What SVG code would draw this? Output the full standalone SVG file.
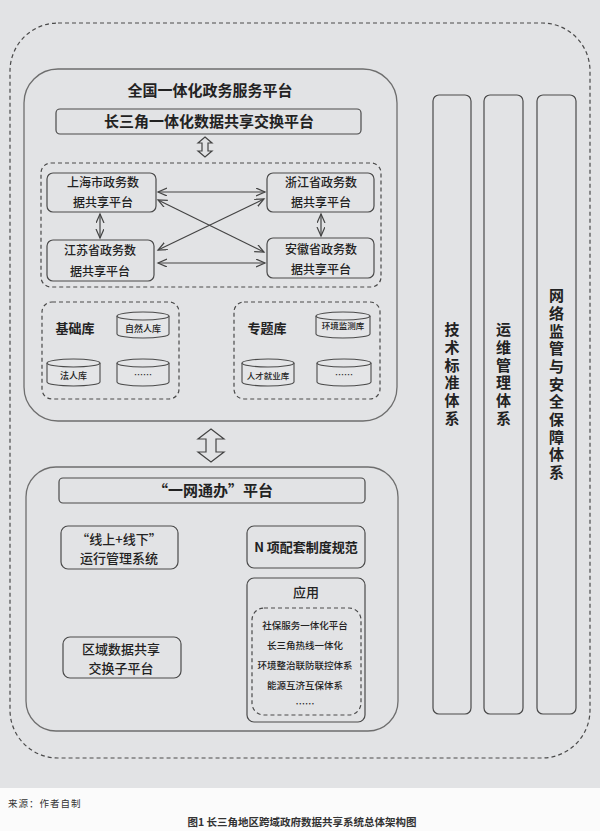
<svg xmlns="http://www.w3.org/2000/svg" width="600" height="831" viewBox="0 0 600 831">
<style>
text{font-family:"Noto Sans CJK SC","Noto Sans",sans-serif;fill:#222;text-anchor:middle}
.b{font-weight:bold}
.m{font-weight:500}
.v{writing-mode:vertical-rl;text-orientation:upright;letter-spacing:2.7px;text-anchor:start}
.panel{fill:none;stroke:#6e6e6e;stroke-width:1.3}
.box{fill:none;stroke:#4a4a4a;stroke-width:1.2}
.dash{fill:none;stroke:#4a4a4a;stroke-width:1.2;stroke-dasharray:4 3}
.cyl{fill:#e4e5e7;stroke:#4a4a4a;stroke-width:1.1}
.conn{fill:none;stroke:#444;stroke-width:1.2;marker-start:url(#ah);marker-end:url(#ah)}
.hollow{fill:#e2e3e5;stroke:#444;stroke-width:1.2;stroke-linejoin:miter}
</style>
<defs>
<marker id="ah" markerUnits="userSpaceOnUse" markerWidth="12" markerHeight="10" refX="9" refY="4" orient="auto-start-reverse">
<path d="M0,0 L9,4 L0,8" fill="none" stroke="#444" stroke-width="1.2"/>
</marker>
</defs>
<rect x="0" y="0" width="600" height="788" fill="#e2e3e5"/>
<rect x="0" y="788" width="600" height="43" fill="#fbfbfb"/>

<g id="outer"><rect x="10" y="23" width="580" height="735" rx="48" class="dash" stroke="#555"/></g>

<g id="upper-panel">
<rect x="24" y="69" width="373" height="352" rx="34" class="panel"/>
<text x="210" y="96" font-size="15" class="b">全国一体化政务服务平台</text>
</g>
<g id="yrd-exchange">
<rect x="56" y="109" width="305" height="25" rx="4" class="box"/>
<text x="209" y="127" font-size="15" class="b">长三角一体化数据共享交换平台</text>
</g>
<g id="province-group"><rect x="41" y="163" width="340" height="124" rx="10" class="dash"/></g>
<g id="shanghai">
<rect x="47" y="173" width="109" height="39" rx="6" class="box"/>
<text x="103" y="187" font-size="12" class="m">上海市政务数</text>
<text x="103" y="207" font-size="12" class="m">据共享平台</text>
</g>
<g id="zhejiang">
<rect x="267" y="173" width="107" height="39" rx="6" class="box"/>
<text x="321" y="187" font-size="12" class="m">浙江省政务数</text>
<text x="321" y="207" font-size="12" class="m">据共享平台</text>
</g>
<g id="jiangsu">
<rect x="47" y="240" width="107" height="41" rx="6" class="box"/>
<text x="100" y="255" font-size="12" class="m">江苏省政务数</text>
<text x="100" y="276" font-size="12" class="m">据共享平台</text>
</g>
<g id="anhui">
<rect x="267" y="238" width="107" height="40" rx="6" class="box"/>
<text x="321" y="254" font-size="12" class="m">安徽省政务数</text>
<text x="321" y="274" font-size="12" class="m">据共享平台</text>
</g>

<g id="base-lib">
<rect x="42" y="302" width="137" height="97" rx="10" class="dash"/>
<text x="75" y="333" font-size="13" class="b">基础库</text>
<path d="M117,316 A26,4 0 0 1 169,316 L169,334 A26,4 0 0 1 117,334 Z" class="cyl"/>
<path d="M117,316 A26,4 0 0 0 169,316" class="cyl" fill="none"/>
<text x="143" y="332" font-size="9" class="m">自然人库</text>
<path d="M47,363 A26.5,4 0 0 1 100,363 L100,382 A26.5,4 0 0 1 47,382 Z" class="cyl"/>
<path d="M47,363 A26.5,4 0 0 0 100,363" class="cyl" fill="none"/>
<text x="73.5" y="379" font-size="9" class="m">法人库</text>
<path d="M117,363 A26,4 0 0 1 169,363 L169,382 A26,4 0 0 1 117,382 Z" class="cyl"/>
<path d="M117,363 A26,4 0 0 0 169,363" class="cyl" fill="none"/>
<text x="143" y="378" font-size="9" class="m">……</text>
</g>
<g id="topic-lib">
<rect x="234" y="302" width="146" height="97" rx="10" class="dash"/>
<text x="267" y="333" font-size="13" class="b">专题库</text>
<path d="M316,316 A27,4 0 0 1 370,316 L370,334 A27,4 0 0 1 316,334 Z" class="cyl"/>
<path d="M316,316 A27,4 0 0 0 370,316" class="cyl" fill="none"/>
<text x="343" y="329" font-size="8.5" class="m">环境监测库</text>
<path d="M242,363 A26,4 0 0 1 294,363 L294,382 A26,4 0 0 1 242,382 Z" class="cyl"/>
<path d="M242,363 A26,4 0 0 0 294,363" class="cyl" fill="none"/>
<text x="268" y="379" font-size="8.5" class="m">人才就业库</text>
<path d="M317,363 A27,4 0 0 1 371,363 L371,382 A27,4 0 0 1 317,382 Z" class="cyl"/>
<path d="M317,363 A27,4 0 0 0 371,363" class="cyl" fill="none"/>
<text x="344" y="378" font-size="9" class="m">……</text>
</g>

<g id="lower-panel">
<rect x="26" y="467" width="372" height="264" rx="30" class="panel"/>
</g>
<g id="ywtb">
<rect x="59" y="478" width="306" height="25" rx="4" class="box"/>
<text x="213" y="496" font-size="15" class="b">“一网通办”平台</text>
</g>
<g id="online-offline">
<rect x="61" y="526" width="117" height="43" rx="7" class="box"/>
<text x="119" y="544" font-size="13" class="m">“线上+线下”</text>
<text x="119" y="563" font-size="13" class="m">运行管理系统</text>
</g>
<g id="n-rules">
<rect x="247" y="526" width="118" height="42" rx="7" class="box"/>
<text x="306" y="552" font-size="13" class="b">N 项配套制度规范</text>
</g>
<g id="apps">
<rect x="247" y="578" width="118" height="144" rx="7" class="box"/>
<text x="306" y="597" font-size="13" class="m">应用</text>
<rect x="252" y="608" width="109" height="107" rx="12" class="dash"/>
<text x="305" y="629" font-size="9.5" class="m">社保服务一体化平台</text>
<text x="305" y="649" font-size="9.5" class="m">长三角热线一体化</text>
<text x="305" y="669" font-size="9.5" class="m">环境整治联防联控体系</text>
<text x="305" y="689" font-size="9.5" class="m">能源互济互保体系</text>
<text x="305" y="707" font-size="9.5" class="m">……</text>
</g>
<g id="regional-exchange">
<rect x="63" y="637" width="118" height="41" rx="7" class="box"/>
<text x="121" y="654" font-size="13" class="m">区域数据共享</text>
<text x="121" y="673" font-size="13" class="m">交换子平台</text>
</g>

<g id="col-tech">
<rect x="433" y="95" width="38" height="619" rx="6" class="box"/>
<text x="452" y="322" font-size="15" class="b v">技术标准体系</text>
</g>
<g id="col-ops">
<rect x="484" y="95" width="39" height="619" rx="6" class="box"/>
<text x="503.5" y="322" font-size="15" class="b v">运维管理体系</text>
</g>
<g id="col-security">
<rect x="537" y="95" width="39" height="619" rx="6" class="box"/>
<text x="556.5" y="288" font-size="15" class="b v">网络监管与安全保障体系</text>
</g>

<g id="connectors">
<polygon class="hollow" points="205,137 212,143 208,143 208,151 212,151 205,157 198,151 202,151 202,143 198,143"/>
<polygon class="hollow" points="211,429 224,439 216,439 216,452 224,452 211,462 198,452 206,452 206,439 198,439"/>
<line class="conn" x1="158" y1="192" x2="265" y2="192"/>
<line class="conn" x1="158" y1="263" x2="265" y2="263"/>
<line class="conn" x1="158" y1="200" x2="264" y2="252"/>
<line class="conn" x1="158" y1="250" x2="264" y2="199"/>
<line class="conn" x1="100" y1="214" x2="100" y2="238"/>
<line class="conn" x1="321" y1="214" x2="321" y2="236"/>
</g>

<g id="caption">
<text x="8" y="807" font-size="9.5" letter-spacing="1" style="text-anchor:start;fill:#333">来源：作者自制</text>
<text x="302" y="826" font-size="10.5" class="b" style="fill:#333">图1 长三角地区跨域政府数据共享系统总体架构图</text>
</g>
</svg>
